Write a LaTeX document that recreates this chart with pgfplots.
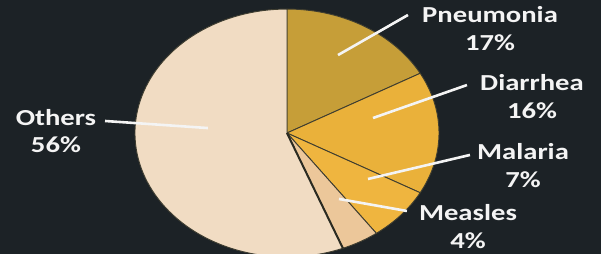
\documentclass[border=0pt]{standalone}
\usepackage{pgfplots}
\pgfplotsset{compat=1.18}
\usepackage{pgfplotstable}
\usepackage{fontspec}
\setmainfont{Carlito}[FakeStretch=1.25]
\definecolor{bgcol}{HTML}{1C2226}
\definecolor{c0}{HTML}{C69E38}
\definecolor{c1}{HTML}{EAB13A}
\definecolor{c2}{HTML}{EFB53F}
\definecolor{c3}{HTML}{ECC79A}
\definecolor{c4}{HTML}{F1DCC3}
\definecolor{edgecol}{HTML}{3E3D30}
\definecolor{labcol}{HTML}{F4F4F4}

\pgfplotstableread{
label value
Pneumonia 17
Diarrhea 16
Malaria 7
Measles 4
Others 56
}\piedata

\begin{document}
\begin{tikzpicture}
\fill[bgcol] (0,0) rectangle (601bp,254bp);
\begin{axis}[
  hide axis, scale only axis,
  width=601bp, height=254bp,
  xmin=-1.888, xmax=2.066,
  ymin=-0.976, ymax=1.073,
  clip=true,
]
\pgfmathsetmacro\cum{0}
\pgfplotsforeachungrouped \i in {0,...,4}{%
  \pgfplotstablegetelem{\i}{value}\of\piedata
  \pgfmathsetmacro\va{\pgfplotsretval}%
  \pgfmathsetmacro\a{90-3.6*\cum}%
  \pgfmathsetmacro\b{90-3.6*(\cum+\va)}%
  \pgfmathsetmacro\cum{\cum+\va}%
  \edef\temp{\noexpand\addplot[fill=c\i, draw=edgecol, line width=0.9bp, line join=round, domain=\b:\a, samples=90, variable=\noexpand\t] ({cos(\noexpand\t)},{sin(\noexpand\t)}) -- (axis cs:0,0) -- cycle;}%
  \temp
}
% darker edge between Measles and Others
\addplot[edgecol!70!black, line width=2bp] coordinates {(0,0) (0.368,-0.930)};
% leader lines
\addplot[labcol, line width=2.6bp] coordinates {(0.336,0.629) (0.796,0.952)};
\addplot[labcol, line width=2.6bp] coordinates {(0.566,0.121) (1.184,0.387)};
\addplot[labcol, line width=2.6bp] coordinates {(0.533,-0.371) (1.204,-0.177)};
\addplot[labcol, line width=2.6bp] coordinates {(0.342,-0.532) (0.789,-0.629)};
\addplot[labcol, line width=2.6bp] coordinates {(-0.520,0.040) (-1.197,0.097)};
% labels
\tikzset{lab/.style={align=center, text=labcol, font=\fontsize{23}{28}\selectfont\bfseries, inner sep=0pt}}
\node[lab] at (axis cs:1.336,0.839) {Pneumonia\\17\%};
\node[lab] at (axis cs:1.612,0.294) {Diarrhea\\16\%};
\node[lab] at (axis cs:1.553,-0.266) {Malaria\\7\%};
\node[lab] at (axis cs:1.191,-0.758) {Measles\\4\%};
\node[lab] at (axis cs:-1.520,0.016) {Others\\56\%};
\end{axis}
\pgfresetboundingbox
\useasboundingbox (0,0) rectangle (601bp,254bp);
\end{tikzpicture}
\end{document}
